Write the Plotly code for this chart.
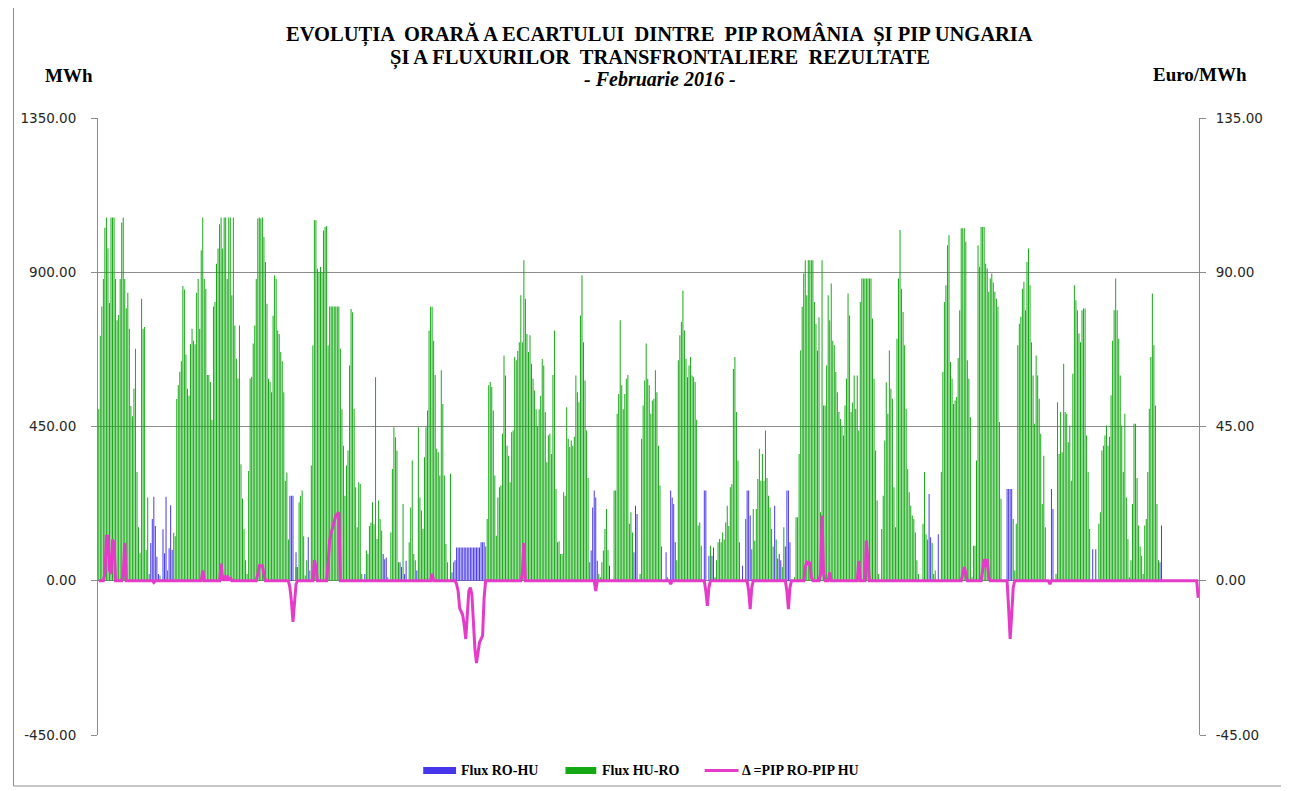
import plotly.graph_objects as go

# Flux HU-RO (MWh), ora cu ora, februarie 2016 - cate un rand pe zi (24 ore)
flux_hu_ro = [
    500, 715, 800, 880, 1030, 1060, 970, 810, 1060, 1060, 1060, 880, 760, 775, 880, 1045, 1060, 880, 795, 840, 735, 510, 480, 560,
    677, 317, 156, 80, 823, 735, 740, 90, 243, 20, 0, 0, 0, 0, 0, 0, 15, 0, 0, 0, 0, 30, 0, 0,
    0, 140, 130, 530, 570, 610, 640, 860, 850, 660, 560, 540, 690, 735, 700, 690, 840, 880, 735, 964, 1060, 880, 852, 600,
    600, 580, 470, 800, 813, 925, 969, 1040, 1060, 969, 1060, 1060, 880, 1060, 1060, 833, 1060, 745, 648, 590, 745, 340, 240, 150,
    60, 20, 320, 590, 595, 692, 745, 880, 1057, 1060, 1057, 1060, 1003, 930, 808, 589, 580, 550, 773, 891, 880, 730, 720, 667,
    640, 550, 292, 316, 120, 0, 0, 0, 0, 40, 40, 229, 248, 263, 130, 15, 60, 0, 30, 336, 686, 1052, 1052, 910,
    900, 915, 900, 1022, 1032, 1035, 686, 800, 800, 800, 800, 800, 800, 800, 677, 500, 394, 248, 336, 380, 628, 793, 783, 502,
    273, 156, 287, 282, 20, 0, 0, 88, 78, 160, 170, 229, 165, 594, 122, 234, 180, 146, 0, 0, 0, 10, 0, 141,
    326, 448, 419, 380, 54, 0, 0, 224, 0, 0, 0, 112, 214, 351, 78, 60, 0, 448, 243, 205, 151, 360, 448, 497,
    730, 799, 799, 700, 600, 385, 375, 307, 614, 516, 307, 107, 54, 0, 312, 0, 54, 0, 0, 0, 0, 0, 0, 0,
    0, 0, 0, 0, 0, 0, 0, 0, 0, 0, 0, 0, 0, 100, 180, 570, 580, 565, 497, 307, 131, 243, 273, 278,
    429, 657, 599, 394, 365, 287, 433, 438, 653, 643, 670, 696, 833, 696, 935, 823, 720, 667, 716, 633, 589, 555, 500, 451,
    500, 540, 647, 628, 492, 346, 424, 429, 370, 600, 730, 268, 112, 115, 78, 78, 258, 248, 506, 414, 390, 409, 394, 420,
    599, 550, 521, 774, 891, 696, 584, 438, 300, 54, 0, 0, 0, 0, 0, 20, 10, 54, 88, 151, 209, 90, 0, 0,
    0, 263, 263, 487, 545, 760, 570, 500, 545, 589, 600, 166, 200, 141, 0, 0, 0, 0, 20, 414, 511, 584, 692, 589,
    570, 487, 526, 531, 614, 550, 394, 278, 100, 0, 0, 0, 10, 0, 0, 0, 0, 0, 60, 643, 716, 755, 847, 730,
    648, 594, 628, 653, 599, 594, 580, 470, 161, 170, 102, 0, 0, 0, 0, 0, 102, 0, 0, 10, 60, 112, 122, 112,
    141, 120, 170, 219, 160, 273, 282, 618, 653, 492, 351, 112, 0, 0, 0, 180, 0, 0, 0, 92, 209, 117, 209, 297,
    385, 292, 370, 292, 438, 300, 248, 214, 151, 100, 0, 120, 0, 0, 0, 40, 156, 0, 0, 0, 0, 0, 0, 10,
    185, 185, 370, 672, 799, 896, 935, 833, 935, 935, 935, 935, 813, 750, 672, 769, 200, 935, 511, 511, 628, 833, 760, 867,
    700, 687, 609, 550, 492, 472, 453, 424, 511, 589, 838, 774, 492, 520, 599, 502, 599, 438, 813, 882, 882, 882, 882, 882,
    882, 882, 765, 589, 380, 234, 20, 0, 151, 248, 409, 579, 487, 672, 560, 531, 273, 156, 706, 882, 1023, 852, 784, 687,
    502, 326, 258, 219, 190, 180, 141, 60, 20, 0, 0, 166, 317, 136, 120, 0, 0, 110, 20, 30, 0, 0, 0, 317,
    609, 813, 862, 979, 1008, 638, 589, 516, 526, 536, 650, 789, 1028, 1028, 1028, 989, 643, 589, 477, 10, 102, 102, 351, 979,
    916, 1032, 1032, 1032, 925, 911, 843, 882, 896, 870, 843, 823, 799, 463, 239, 0, 0, 0, 0, 0, 0, 0, 180, 30,
    166, 687, 750, 770, 852, 872, 789, 930, 969, 862, 696, 599, 458, 657, 599, 531, 429, 224, 365, 156, 0, 0, 0, 0,
    0, 0, 20, 521, 370, 492, 375, 633, 492, 487, 404, 453, 292, 604, 862, 818, 789, 721, 696, 789, 794, 794, 424, 317,
    151, 0, 0, 0, 0, 0, 166, 200, 380, 394, 424, 453, 394, 420, 541, 700, 789, 882, 789, 706, 599, 453, 317, 487,
    243, 122, 10, 60, 224, 458, 458, 300, 161, 100, 73, 20, 161, 180, 317, 502, 653, 838, 687, 511, 224, 60, 0, 0,
]

# Flux RO-HU (MWh) - doar orele cu flux
ore_ro_hu = [34, 35, 36, 37, 38, 39, 42, 43, 44, 46, 47, 48,
             125, 126, 127, 129, 137, 174, 186, 187, 188, 197, 198, 200, 201, 208,
             231, 233, 234, 235, 236, 237, 238, 239, 240, 241, 242, 243, 244, 245, 246, 247, 248, 249, 250, 251, 252,
             322, 323, 324, 325, 326, 334, 350, 351, 352, 371, 374, 375, 376, 377,
             396, 397, 399, 401, 402, 421, 424, 425, 426, 442, 444, 445, 446, 449, 450, 451, 452,
             543, 544, 549, 594, 595, 596, 597, 623, 624, 650, 652, 694, 695]
flux_ro_hu = [110, 180, 245, 160, 70, 20, 150, 80, 245, 95, 220, 90,
              248, 248, 248, 83, 127, 20, 78, 63, 68, 54, 40, 20, 58, 30,
              25, 60, 97, 97, 97, 97, 97, 97, 97, 97, 97, 97, 97, 97, 97, 97, 97, 97, 112, 112, 112,
              88, 214, 263, 243, 58, 44, 83, 219, 195, 83, 263, 243, 224, 112,
              263, 263, 73, 73, 97, 44, 263, 263, 190, 219, 65, 78, 60, 100, 263, 263, 112,
              253, 127, 136, 268, 268, 268, 268, 268, 209, 92, 92, 54, 161]

# Delta = PIP RO - PIP HU (Euro/MWh), 720 de ore pe axa
delta_pip = [
    0, 0, 0, 0, 2, 13, 13, 3, 2, 12, 11, 0, 0, 0, 0, 0, 2, 11, 0, 0, 0, 0, 0, 0,
    0, 0, 0, 0, 0, 0, 0, 0, 0, 0, 0, 0, -0.5, 0, 0, 0, 0, 0, 0, 0, 0, 0, 0, 0,
    0, 0, 0, 0, 0, 0, 0, 0, 0, 0, 0, 0, 0, 0, 0, 0, 0, 0, 0, 0, 3, 0, 0, 0,
    0, 0, 0, 0, 0, 0, 0, 0, 5, 0, 1.5, 0, 1.5, 0, 1, 0, 0, 0, 0, 0, 0, 0, 0, 0,
    0, 0, 0, 0, 0, 0, 0, 0, 2, 4.4, 4.4, 4.4, 2, 0, 0, 0, 0, 0, 0, 0, 0, 0, 0, 0,
    0, 0, 0, 0, 0, -2, -6, -12, -6, -1, 0, 0, 0, 0, 0, 0, 0, 0, 0, 0, 0, 6, 4, 0,
    0, 0, 0, 0, 0, 0, 5, 12, 14, 16, 17, 19, 19.5, 20, 0, 0, 0, 0, 0, 0, 0, 0, 0, 0,
    0, 0, 0, 0, 0, 0, 0, 0, 0, 0, 0, 0, 0, 0, 0, 0, 0, 0, 0, 0, 0, 0, 0, 0,
    0, 0, 0, 0, 0, 0, 0, 0, 0, 0, 0, 0, 0, 0, 0, 0, 0, 0, 0, 0, 0, 0, 0, 0,
    0, 0, 2, 0, 0, 0, 0, 0, 0, 0, 0, 0, 0, 0, 0, 0, 0, 0, -1, -3, -8, -9, -10, -13,
    -17, -10, -3, -2, -4, -12, -20, -24, -21, -18, -17, -16, -5, 0, 0, 0, 0, 0, 0, 0, 0, 0, 0, 0,
    0, 0, 0, 0, 0, 0, 0, 0, 0, 0, 0, 0, 0, 2, 11, 0, 0, 0, 0, 0, 0, 0, 0, 0,
    0, 0, 0, 0, 0, 0, 0, 0, 0, 0, 0, 0, 0, 0, 0, 0, 0, 0, 0, 0, 0, 0, 0, 0,
    0, 0, 0, 0, 0, 0, 0, 0, 0, 0, 0, 0, 0, -3, 0, 0, 0, 0, 0, 0, 0, 0, 0, 0,
    0, 0, 0, 0, 0, 0, 0, 0, 0, 0, 0, 0, 0, 0, 0, 0, 0, 0, 0, 0, 0, 0, 0, 0,
    0, 0, 0, 0, 0, 0, 0, 0, 0, 0, 0, 0, 0, 0, -1, 0, 0, 0, 0, 0, 0, 0, 0, 0,
    0, 0, 0, 0, 0, 0, 0, 0, 0, 0, 0, 0, 0, -3, -7.3, -2, 0, 0, 0, 0, 0, 0, 0, 0,
    0, 0, 0, 0, 0, 0, 0, 0, 0, 0, 0, 0, 0, 0, 0, 0, 0, -3, -8.3, -2, 0, 0, 0, 0,
    0, 0, 0, 0, 0, 0, 0, 0, 0, 0, 0, 0, 0, 0, 0, 0, 0, 0, -3, -8.3, -2, 0, 0, 0,
    0, 0, 0, 0, 0, 0, 4, 5.4, 5, 5.4, 1, 0, 0, 0, 0, 0, 2, 19, 2, 0, 0, 0, 2.4, 0,
    0, 0, 0, 0, 0, 0, 0, 0, 0, 0, 0, 0, 0, 0, 0, 0, 0, 5.8, 0, 0, 0, 0, 11.7, 4,
    0, 0, 0, 0, 0, 0, 0, 0, 0, 0, 0, 0, 0, 0, 0, 0, 0, 0, 0, 0, 0, 0, 0, 0,
    0, 0, 0, 0, 0, 0, 0, 0, 0, 0, 0, 0, 0, 0, 0, 0, 0, 0, 0, 0, 0, 0, 0, 0,
    0, 0, 0, 0, 0, 0, 0, 0, 0, 0, 0, 0, 0, 2, 4, 2, 0, 0, 0, 0, 0, 0, 0, 0,
    0, 0, 3, 6.3, 4, 6.3, 1, 0, 0, 0, 0, 0, 0, 0, 0, 0, 0, 0, 0, -8, -17, -10, -2, 0,
    0, 0, 0, 0, 0, 0, 0, 0, 0, 0, 0, 0, 0, 0, 0, 0, 0, 0, 0, 0, 0, 0, -1, 0,
    0, 0, 0, 0, 0, 0, 0, 0, 0, 0, 0, 0, 0, 0, 0, 0, 0, 0, 0, 0, 0, 0, 0, 0,
    0, 0, 0, 0, 0, 0, 0, 0, 0, 0, 0, 0, 0, 0, 0, 0, 0, 0, 0, 0, 0, 0, 0, 0,
    0, 0, 0, 0, 0, 0, 0, 0, 0, 0, 0, 0, 0, 0, 0, 0, 0, 0, 0, 0, 0, 0, 0, 0,
    0, 0, 0, 0, 0, 0, 0, 0, 0, 0, 0, 0, 0, 0, 0, 0, 0, 0, 0, 0, 0, 0, 0, -5,
]

# axe
mwh_ticks = [-450, 0, 450, 900, 1350]
mwh_labels = ['-450.00', '0.00', '450.00', '900.00', '1350.00']
euro_ticks = [-45, 0, 45, 90, 135]
euro_labels = ['-45.00', '0.00', '45.00', '90.00', '135.00']

assert len(flux_hu_ro) == 696 and len(delta_pip) == 720 and len(ore_ro_hu) == len(flux_ro_hu)

ore = list(range(len(delta_pip)))

culoare_ro_hu = '#4536EC'
culoare_hu_ro = '#14A814'
culoare_delta = '#E43CC8'
gri = '#8C8C8C'

# culoare cu alpha < 1 -> plotly rotunjeste barele la pixel intreg (fara sa le
# umfle), asa raman dungile albe intre ore, ca in original
fig = go.Figure()
fig.add_trace(go.Bar(x=ore_ro_hu, y=flux_ro_hu, name='Flux RO-HU',
                     marker=dict(color='rgba(69,54,236,0.99)', line=dict(width=0))))
fig.add_trace(go.Bar(x=ore[:len(flux_hu_ro)], y=flux_hu_ro, name='Flux HU-RO',
                     marker=dict(color='rgba(20,168,20,0.99)', line=dict(width=0))))
fig.add_trace(go.Scatter(x=ore, y=delta_pip, yaxis='y2', mode='lines', name='Δ =PIP RO-PIP HU',
                         line=dict(color=culoare_delta, width=3)))

# pagina are o margine de 8px (body), deci figura e putin mai mica
OFF = 8
W, H = 1289 - OFF, 791 - OFF
# zona de desen, in pixeli pe ecran
X0, X1, Y0, Y1 = 92, 1199, 118, 735


def px(x):
    return (x - X0) / (X1 - X0)


def py(y):
    return (Y1 - y) / (Y1 - Y0)


serif = 'Liberation Serif'
tick_font = dict(family='DejaVu Sans', size=13.5, color='#262626')

fig.update_layout(
    width=W, height=H,
    margin=dict(l=X0 - OFF, r=W - (X1 - OFF), t=Y0 - OFF, b=H - (Y1 - OFF), pad=0),
    paper_bgcolor='white', plot_bgcolor='white',
    barmode='overlay', bargap=0.35,
    showlegend=False,
    xaxis=dict(range=[-0.5, len(ore) - 0.5], showticklabels=False, showgrid=False,
               zeroline=False, ticks='', showline=False),
    yaxis=dict(range=[-450, 1350], tickvals=mwh_ticks, ticktext=mwh_labels,
               showgrid=True, gridcolor=gri, gridwidth=1, zeroline=False,
               showline=True, linecolor=gri, linewidth=1,
               ticks='outside', ticklen=6, tickcolor=gri, tickfont=tick_font,
               ticklabelstandoff=12),
    yaxis2=dict(range=[-45, 135], tickvals=euro_ticks, ticktext=euro_labels,
                overlaying='y', side='right', showgrid=False, zeroline=False,
                showline=True, linecolor=gri, linewidth=1,
                ticks='outside', ticklen=6, tickcolor=gri, tickfont=tick_font,
                ticklabelstandoff=7),
)

# chenarul graficului
fig.add_shape(type='rect', xref='paper', yref='paper',
              x0=px(7), x1=px(1286), y0=py(786), y1=py(5),
              line=dict(color=gri, width=1), fillcolor='rgba(0,0,0,0)', layer='below')

# titlu
titlu = [
    ('<b>EVOLUȚIA  ORARĂ A ECARTULUI  DINTRE  PIP ROMÂNIA  ȘI PIP UNGARIA</b>', 34, 20.5),
    ('<b>ȘI A FLUXURILOR  TRANSFRONTALIERE  REZULTATE</b>', 58, 20.5),
    ('<b><i>- Februarie 2016 -</i></b>', 79, 20),
]
for text, y, size in titlu:
    fig.add_annotation(text=text, xref='paper', yref='paper', x=px(657), y=py(y),
                       xanchor='center', yanchor='middle', showarrow=False,
                       font=dict(family=serif, size=size, color='black'))

fig.add_annotation(text='<b>MWh</b>', xref='paper', yref='paper', x=px(63), y=py(75),
                   xanchor='center', yanchor='middle', showarrow=False,
                   font=dict(family=serif, size=19, color='black'))
fig.add_annotation(text='<b>Euro/MWh</b>', xref='paper', yref='paper', x=px(1200), y=py(74),
                   xanchor='center', yanchor='middle', showarrow=False,
                   font=dict(family=serif, size=19, color='black'))

# legenda desenata manual (simboluri late, ca in Excel)
ly = 770.5
fig.add_shape(type='rect', xref='paper', yref='paper', x0=px(419), x1=px(452),
              y0=py(774), y1=py(767), line=dict(width=0), fillcolor=culoare_ro_hu)
fig.add_shape(type='rect', xref='paper', yref='paper', x0=px(562), x1=px(593),
              y0=py(774), y1=py(767), line=dict(width=0), fillcolor=culoare_hu_ro)
fig.add_shape(type='line', xref='paper', yref='paper', x0=px(702), x1=px(736),
              y0=py(ly), y1=py(ly), line=dict(color=culoare_delta, width=3))
for text, x in [('Flux RO-HU', 455), ('Flux HU-RO', 597), ('Δ =PIP RO-PIP HU', 738)]:
    fig.add_annotation(text='<b>' + text + '</b>', xref='paper', yref='paper', x=px(x), y=py(ly),
                       xanchor='left', yanchor='middle', showarrow=False,
                       font=dict(family=serif, size=14, color='black'))

fig.write_html('out.html')
